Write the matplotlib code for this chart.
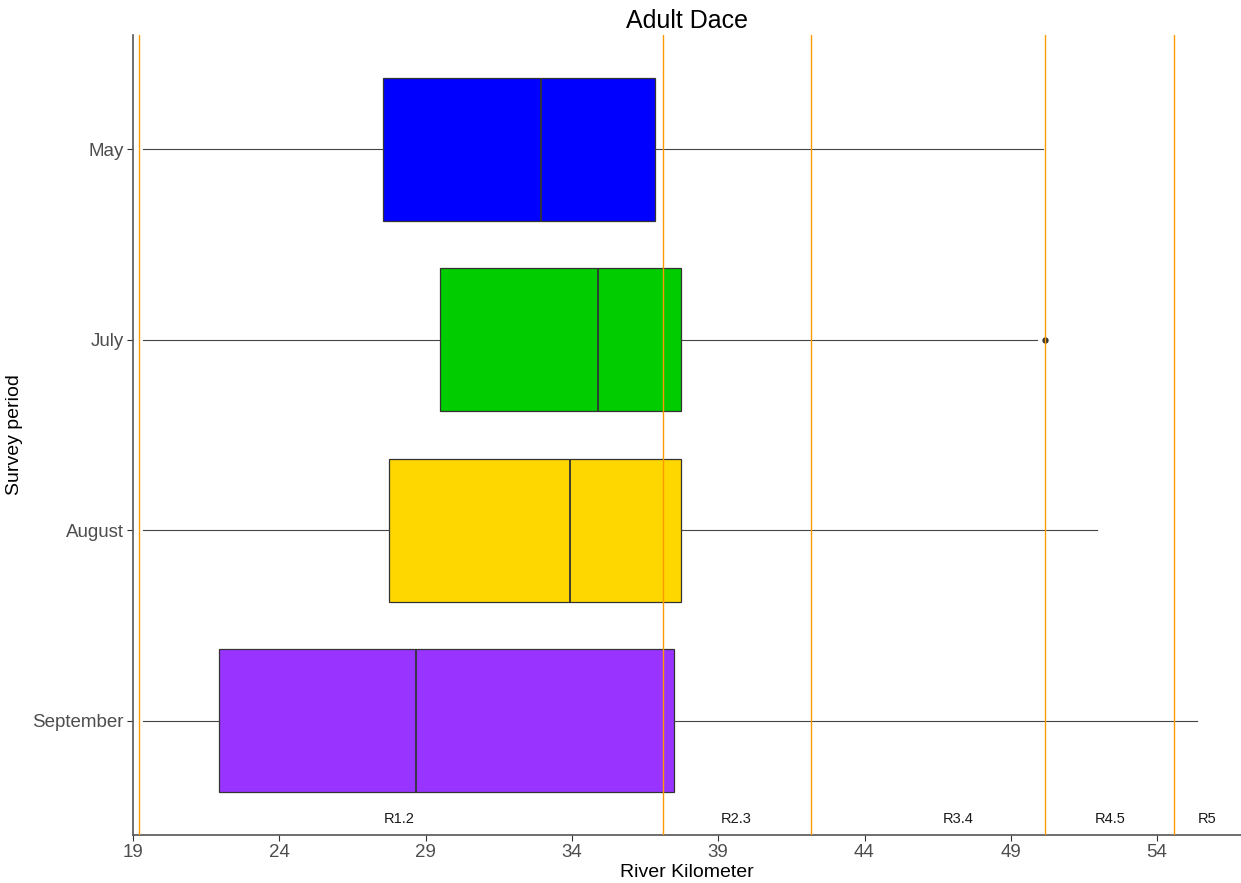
import matplotlib
matplotlib.use("Agg")
import matplotlib.pyplot as plt

plt.rcParams["font.family"] = ["Liberation Sans", "DejaVu Sans"]

# Data (river kilometer summaries per survey period)
periods = ["September", "August", "July", "May"]
whislo = [19.35, 19.35, 19.35, 19.35]
q1 = [21.94, 27.75, 29.49, 27.54]
med = [28.67, 33.94, 34.89, 32.94]
q3 = [37.49, 37.73, 37.73, 36.84]
whishi = [55.36, 51.95, 49.90, 50.10]
fliers = [[], [], [50.17], []]
box_colors = ["#9933FF", "#FFD700", "#00CC00", "#0000FF"]

reach_breaks = [19.2, 37.1, 42.18, 50.18, 54.59]
reach_labels = ["R1.2", "R2.3", "R3.4", "R4.5", "R5"]
reach_label_x = [28.1, 39.6, 47.2, 52.4, 55.7]
x_ticks = [19, 24, 29, 34, 39, 44, 49, 54]

W, H = 1241, 883
fig = plt.figure(figsize=(W / 100, H / 100), dpi=100)
ax = fig.add_axes([133 / W, 1 - 835 / H, (1241 - 133) / W, (835 - 35) / H])

stats = []
for i in range(len(periods)):
    stats.append(dict(whislo=whislo[i], q1=q1[i], med=med[i], q3=q3[i],
                      whishi=whishi[i], fliers=fliers[i], label=periods[i]))

positions = list(range(1, len(periods) + 1))
bp = ax.bxp(stats, positions=positions, vert=False, widths=0.75,
            patch_artist=True, showcaps=False,
            boxprops=dict(edgecolor="#333333", linewidth=0.9),
            medianprops=dict(color="#333333", linewidth=1.3),
            whiskerprops=dict(color="#444444", linewidth=0.8),
            flierprops=dict(marker="o", markerfacecolor="#333333",
                            markeredgecolor="#333333", markersize=3.5))
for patch, c in zip(bp["boxes"], box_colors):
    patch.set_facecolor(c)
    patch.set_zorder(2)

for xb in reach_breaks:
    ax.axvline(xb, color="#FF9900", linewidth=1.0, zorder=3)
for xl, lab in zip(reach_label_x, reach_labels):
    ax.text(xl, 0.485, lab, ha="center", va="center", fontsize=10.5, color="#1a1a1a")

ax.set_xlim(19, 19 + (1241 - 133) / 29.26)
ax.set_ylim(0.4, len(periods) + 0.6)
ax.set_xticks(x_ticks)
ax.set_yticks(positions)
ax.set_yticklabels(periods)
ax.tick_params(axis="both", labelsize=13.5, labelcolor="#4D4D4D", color="#333333",
               length=4, width=0.8, pad=2.5)

for s in ["top", "right"]:
    ax.spines[s].set_visible(False)
for s in ["left", "bottom"]:
    ax.spines[s].set_color("#555555")
    ax.spines[s].set_linewidth(1.2)

ax.set_xlabel("River Kilometer", fontsize=14, color="black", labelpad=2)
ax.set_ylabel("Survey period", fontsize=14, color="black", labelpad=7)
ax.set_title("Adult Dace", fontsize=18, color="black", pad=5)

fig.savefig("out.png", dpi=100)
